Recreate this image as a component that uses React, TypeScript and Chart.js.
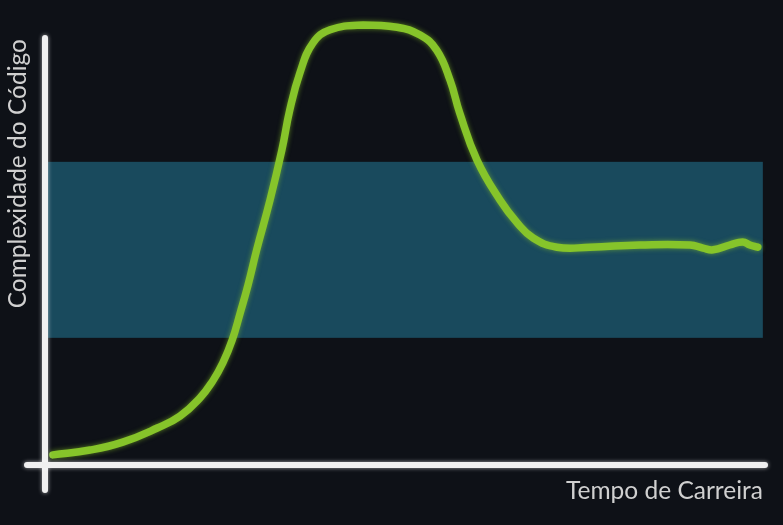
import React, { useEffect, useRef } from "react";
import { Chart, registerables } from "chart.js";

Chart.register(...registerables);

const careerTime = [1.1, 6.25, 10.8, 15.6, 18.75, 21.5, 23.3, 24.7, 26.0, 27.1, 28.2, 29.4, 31.25, 32.9, 34.0, 35.4, 37.2, 39.6, 44.2, 48.9, 52.1, 54.4, 56.25, 57.6, 60.0, 63.2, 65.6, 67.8, 71.1, 75.7, 82.6, 89.6, 91.4, 92.8, 95.1, 96.9, 97.9, 99.0];
const complexity = [2.3, 3.4, 5.2, 8.4, 11.1, 15.2, 19.1, 23.2, 28.4, 34.5, 40.9, 48.9, 60.2, 71.6, 80.7, 89.1, 95.9, 98.9, 100.0, 99.5, 97.7, 94.3, 87.5, 80.0, 69.3, 60.2, 55.0, 51.6, 49.5, 49.5, 50.0, 50.0, 49.3, 48.9, 50.0, 50.7, 50.0, 49.5];
const bandRange = [28.9, 68.9];
const bandX = [0.4, 99.7];
const xTitle = "Tempo de Carreira";
const yTitle = "Complexidade do Código";

export default function App() {
  const ref = useRef<HTMLCanvasElement | null>(null);
  useEffect(() => {
    if (!ref.current) return;
    const decor = {
      id: "decor",
      beforeDatasetsDraw(chart: any) {
        const { ctx, scales } = chart;
        const x = scales.x, y = scales.y;
        ctx.save();
        ctx.fillStyle = "#194a5d";
        const x0 = x.getPixelForValue(bandX[0]);
        const x1 = x.getPixelForValue(bandX[1]);
        const y0 = y.getPixelForValue(bandRange[1]);
        const y1 = y.getPixelForValue(bandRange[0]);
        ctx.fillRect(x0, y0, x1 - x0, y1 - y0);
        ctx.restore();
      },
      afterDatasetsDraw(chart: any) {
        const { ctx, chartArea } = chart;
        ctx.save();
        ctx.strokeStyle = "#f0f0f0";
        ctx.lineWidth = 6;
        ctx.lineCap = "round";
        ctx.shadowColor = "rgba(255,255,255,0.6)";
        ctx.shadowBlur = 4;
        ctx.beginPath();
        ctx.moveTo(chartArea.left, chartArea.top + 13);
        ctx.lineTo(chartArea.left, chartArea.bottom + 25);
        ctx.stroke();
        ctx.beginPath();
        ctx.moveTo(chartArea.left - 18, chartArea.bottom);
        ctx.lineTo(chartArea.right, chartArea.bottom);
        ctx.stroke();
        ctx.shadowBlur = 0;
        ctx.fillStyle = "#d0d0d0";
        ctx.font = "24.5px Lato, 'Open Sans', sans-serif";
        ctx.textAlign = "right";
        ctx.textBaseline = "alphabetic";
        ctx.fillText(xTitle, chartArea.right - 2, chartArea.bottom + 34);
        ctx.translate(26, chartArea.top + 14);
        ctx.rotate(-Math.PI / 2);
        ctx.textAlign = "right";
        ctx.fillText(yTitle, 0, 0);
        ctx.restore();
      },
      beforeDatasetDraw(chart: any) {
        const ctx = chart.ctx;
        ctx.save();
        ctx.shadowColor = "rgba(140,200,40,0.6)";
        ctx.shadowBlur = 5;
      },
      afterDatasetDraw(chart: any) {
        chart.ctx.restore();
      },
    };
    const chart = new Chart(ref.current, {
      type: "line",
      data: {
        datasets: [
          {
            data: careerTime.map((t, i) => ({ x: t, y: complexity[i] })),
            borderColor: "#86c42a",
            borderWidth: 7.5,
            pointRadius: 0,
            tension: 0.45,
            borderCapStyle: "round",
            borderJoinStyle: "round",
            fill: false,
            clip: false,
          } as any,
        ],
      },
      options: {
        animation: false,
        responsive: false,
        layout: { padding: { left: 45, right: 18, top: 25, bottom: 60 } },
        plugins: { legend: { display: false }, tooltip: { enabled: false } },
        scales: {
          x: { type: "linear", min: 0, max: 100, display: false },
          y: { type: "linear", min: 0, max: 100, display: false },
        },
      },
      plugins: [decor],
    });
    return () => chart.destroy();
  }, []);
  return (
    <div style={{ position: "fixed", left: 0, top: 0, width: 783, height: 525, background: "#0e1117" }}>
      <canvas ref={ref} width={783} height={525} style={{ display: "block" }} />
    </div>
  );
}
